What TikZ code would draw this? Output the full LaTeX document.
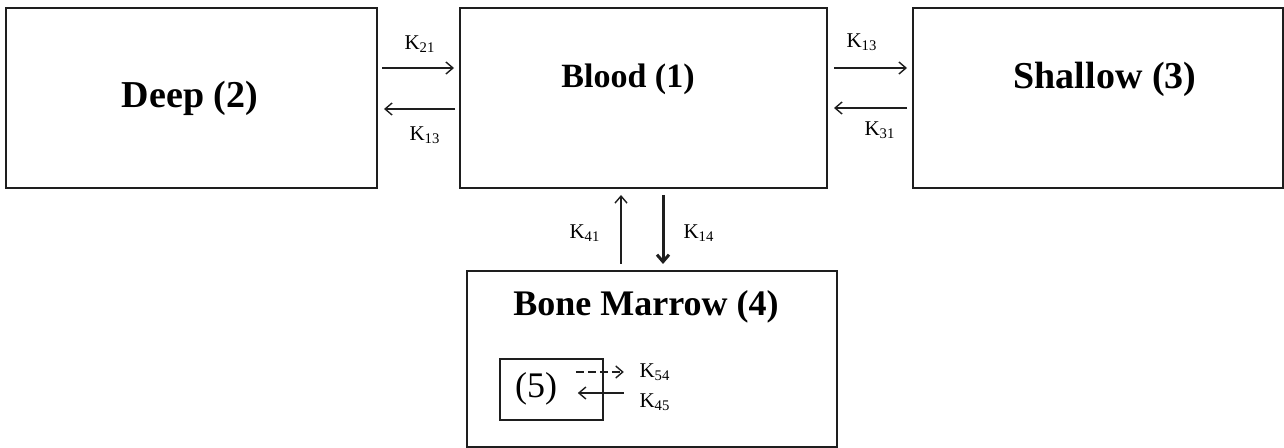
\documentclass[tikz,border=0pt]{standalone}
\usepackage{fontspec}
\setmainfont{Liberation Serif}
\usetikzlibrary{arrows.meta,positioning,calc}
\definecolor{ink}{RGB}{30,30,30}
\tikzset{
  comp/.style={draw=ink,line width=1pt,inner sep=0pt},
  ttl/.style={font=\fontsize{18}{21}\selectfont\bfseries,inner sep=0pt},
  rate/.style={font=\fontsize{10.5}{12}\selectfont,inner sep=0pt},
  arr/.style={-{Straight Barb[length=3.5pt,width=6pt]},line width=0.7pt,ink},
}
\begin{document}
\begin{tikzpicture}[x=0.5pt,y=-0.5pt]
  \useasboundingbox (0,0) rectangle (1284,448);
  % compartments
  \node[comp,minimum width=185.5pt,minimum height=90pt] (deep) at (191.5,98) {};
  \node[comp,minimum width=183.5pt,minimum height=90pt] (blood) at (643.5,98) {};
  \node[comp,minimum width=185pt,minimum height=90pt] (shallow) at (1098,98) {};
  \node[comp,minimum width=185pt,minimum height=88pt] (marrow) at (652,359) {};
  \node[comp,line width=0.8pt,minimum width=51.5pt,minimum height=30.5pt] (five) at (551.5,389.5) {};
  \node[ttl,font=\fontsize{19}{22}\selectfont\bfseries] (deepT) at (190,98) {Deep (2)};
  \node[ttl,font=\fontsize{17}{20}\selectfont\bfseries] (bloodT) at (628,79) {Blood (1)};
  \node[ttl,font=\fontsize{19}{22}\selectfont\bfseries] (shallowT) at (1105,79) {Shallow (3)};
  \node[ttl] (marrowT) at (646,307) {Bone Marrow (4)};
  \node[font=\fontsize{18}{21}\selectfont,inner sep=0pt] (fiveT) at (536,389) {(5)};
  % exchange arrows
  \coordinate (d21) at ([yshift=15pt]blood.west);
  \coordinate (d12) at ([yshift=-5.5pt]deep.east);
  \coordinate (s13) at ([yshift=15pt]shallow.west);
  \coordinate (s31) at ([yshift=-5pt]blood.east);
  \coordinate (up) at ([xshift=-11.25pt]blood.south);
  \coordinate (dn) at ([xshift=9.75pt]blood.south);
  \coordinate (k54) at ([xshift=10pt,yshift=8.75pt]five.east);
  \coordinate (k45) at ([xshift=10pt,yshift=-1.75pt]five.east);
  \draw[arr,shorten <=2pt,shorten >=2.5pt] (deep.east |- d21) -- (d21);
  \draw[arr,shorten <=2pt,shorten >=3pt] (blood.west |- d12) -- (d12);
  \draw[arr,shorten <=3pt,shorten >=2.5pt] (blood.east |- s13) -- (s13);
  \draw[arr,shorten <=2.5pt,shorten >=3pt] (shallow.west |- s31) -- (s31);
  \draw[arr,shorten <=3pt,shorten >=3pt] (marrow.north -| up) -- (up);
  \draw[arr,line width=1.5pt,shorten <=3pt,shorten >=3pt] (dn) -- (marrow.north -| dn);
  \draw[arr,dashed,dash pattern=on 4pt off 2pt] ([xshift=-24pt]k54) -- (k54);
  \draw[arr] (k45) -- ([xshift=-23pt]k45);
  % rate constants
  \node[rate] (l21) at (420,44) {K\textsubscript{21}};
  \node[rate] (l12) at (425,135) {K\textsubscript{13}};
  \node[rate] (r13) at (862,42) {K\textsubscript{13}};
  \node[rate] (r31) at (880,130) {K\textsubscript{31}};
  \node[rate] (v41) at (585,233) {K\textsubscript{41}};
  \node[rate] (v14) at (699,233) {K\textsubscript{14}};
  \node[rate] (i54) at (655,372) {K\textsubscript{54}};
  \node[rate] (i45) at (655,402) {K\textsubscript{45}};
\end{tikzpicture}
\end{document}
